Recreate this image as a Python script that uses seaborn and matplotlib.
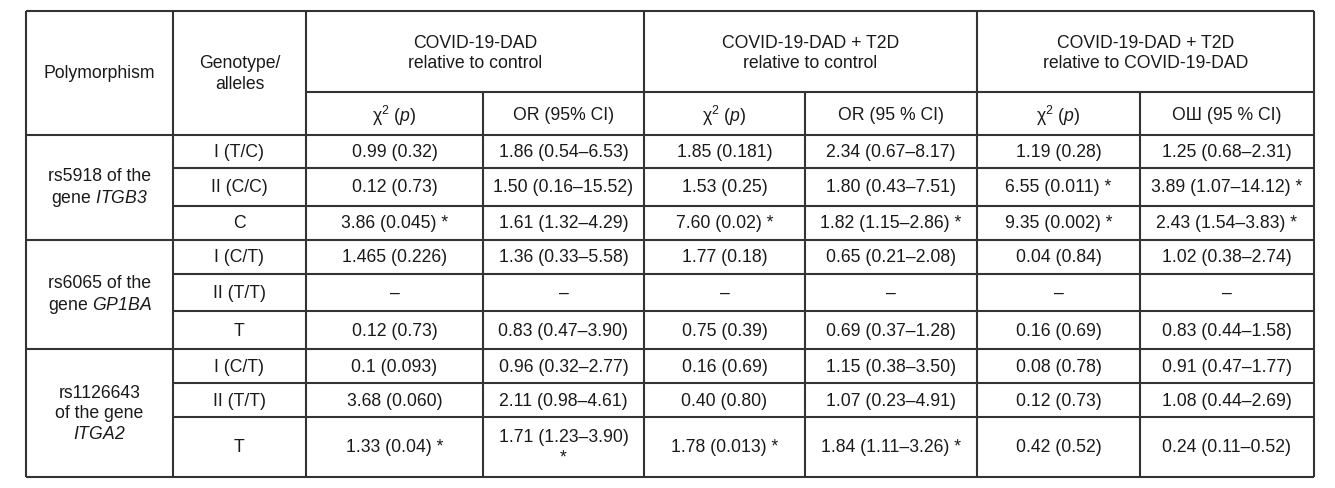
import matplotlib
matplotlib.use('Agg')
import matplotlib.pyplot as plt
import seaborn as sns

# ---------------- table content ----------------

# gene names go through \mathsf, which is mapped to the italic face below
# (\mathit would leave the digits upright)
polymorphisms = ['rs5918 of the\ngene $\\mathsf{ITGB3}$',
                 'rs6065 of the\ngene $\\mathsf{GP1BA}$',
                 'rs1126643\nof the gene\n$\\mathsf{ITGA2}$']
genotypes = ['I (T/C)', 'II (C/C)', 'C',
             'I (C/T)', 'II (T/T)', 'T',
             'I (C/T)', 'II (T/T)', 'T']

groups = ['COVID-19-DAD\nrelative to control',
          'COVID-19-DAD + T2D\nrelative to control',
          'COVID-19-DAD + T2D\nrelative to COVID-19-DAD']
subheads = ['χ$^2$ ($\\mathit{p}$)', 'OR (95% CI)',
            'χ$^2$ ($\\mathit{p}$)', 'OR (95 % CI)',
            'χ$^2$ ($\\mathit{p}$)', 'ОШ (95 % CI)']

chi_dad = ['0.99 (0.32)', '0.12 (0.73)', '3.86 (0.045) *',
           '1.465 (0.226)', '–', '0.12 (0.73)',
           '0.1 (0.093)', '3.68 (0.060)', '1.33 (0.04) *']
or_dad = ['1.86 (0.54–6.53)', '1.50 (0.16–15.52)', '1.61 (1.32–4.29)',
          '1.36 (0.33–5.58)', '–', '0.83 (0.47–3.90)',
          '0.96 (0.32–2.77)', '2.11 (0.98–4.61)', '1.71 (1.23–3.90)\n*']
chi_t2d = ['1.85 (0.181)', '1.53 (0.25)', '7.60 (0.02) *',
           '1.77 (0.18)', '–', '0.75 (0.39)',
           '0.16 (0.69)', '0.40 (0.80)', '1.78 (0.013) *']
or_t2d = ['2.34 (0.67–8.17)', '1.80 (0.43–7.51)', '1.82 (1.15–2.86) *',
          '0.65 (0.21–2.08)', '–', '0.69 (0.37–1.28)',
          '1.15 (0.38–3.50)', '1.07 (0.23–4.91)', '1.84 (1.11–3.26) *']
chi_t2d_dad = ['1.19 (0.28)', '6.55 (0.011) *', '9.35 (0.002) *',
               '0.04 (0.84)', '–', '0.16 (0.69)',
               '0.08 (0.78)', '0.12 (0.73)', '0.42 (0.52)']
or_t2d_dad = ['1.25 (0.68–2.31)', '3.89 (1.07–14.12) *', '2.43 (1.54–3.83) *',
              '1.02 (0.38–2.74)', '–', '0.83 (0.44–1.58)',
              '0.91 (0.47–1.77)', '1.08 (0.44–2.69)', '0.24 (0.11–0.52)']

value_cols = [chi_dad, or_dad, chi_t2d, or_t2d, chi_t2d_dad, or_t2d_dad]

# ---------------- layout (pixels) ----------------

col_x = [26, 173, 306, 483, 644, 805, 977, 1140, 1314]
top, mid = 12, 93
row_y = [136, 169, 207, 241, 275, 312, 350, 384, 418, 478]
group_rows = [0, 3, 6, 9]

sns.set_theme(style='white')
plt.rcParams['font.family'] = ['Liberation Sans', 'DejaVu Sans']
plt.rcParams['mathtext.fontset'] = 'custom'
plt.rcParams['mathtext.rm'] = 'Liberation Sans'
plt.rcParams['mathtext.it'] = 'Liberation Sans:italic'
plt.rcParams['mathtext.sf'] = 'Liberation Sans:italic'

fig = plt.figure(figsize=(13.35, 4.89), dpi=100)
ax = fig.add_axes([0, 0, 1, 1])
ax.set_xlim(0, 1335)
ax.set_ylim(489, 0)
ax.axis('off')

lc = '#333333'
lw = 1.5
fs = 12.7
tc = '#1a1a1a'

# outer frame and full-height verticals
ax.hlines([top, row_y[-1]], col_x[0], col_x[-1], color=lc, lw=lw)
for i in [0, 1, 2, 4, 6, 8]:
    ax.vlines(col_x[i], top, row_y[-1], color=lc, lw=lw)
# sub-column verticals
for i in [3, 5, 7]:
    ax.vlines(col_x[i], mid, row_y[-1], color=lc, lw=lw)
# header split line
ax.hlines(mid, col_x[2], col_x[-1], color=lc, lw=lw)
# row lines
for k, y in enumerate(row_y[:-1]):
    if k in group_rows:
        ax.hlines(y, col_x[0], col_x[-1], color=lc, lw=lw)
    else:
        ax.hlines(y, col_x[1], col_x[-1], color=lc, lw=lw)

def cell_text(x, y, s):
    ax.text(x, y, s, ha='center', va='center', fontsize=fs, color=tc,
            linespacing=1.24, multialignment='center')

# header
cell_text((col_x[0] + col_x[1]) / 2, (top + row_y[0]) / 2, 'Polymorphism')
cell_text((col_x[1] + col_x[2]) / 2, (top + row_y[0]) / 2, 'Genotype/\nalleles')
for g, label in enumerate(groups):
    cx = (col_x[2 + 2 * g] + col_x[4 + 2 * g]) / 2
    cell_text(cx, (top + mid) / 2 + 1, label)
for j, label in enumerate(subheads):
    cell_text((col_x[2 + j] + col_x[3 + j]) / 2, (mid + row_y[0]) / 2 + 1, label)

# polymorphism labels
for g, label in enumerate(polymorphisms):
    y0 = row_y[group_rows[g]]
    y1 = row_y[group_rows[g + 1]]
    cell_text((col_x[0] + col_x[1]) / 2, (y0 + y1) / 2, label)

# body
for r in range(len(genotypes)):
    cy = (row_y[r] + row_y[r + 1]) / 2
    cell_text((col_x[1] + col_x[2]) / 2, cy, genotypes[r])
    for j, col in enumerate(value_cols):
        cell_text((col_x[2 + j] + col_x[3 + j]) / 2, cy, col[r])

fig.savefig('out.png', dpi=100, facecolor='white')
